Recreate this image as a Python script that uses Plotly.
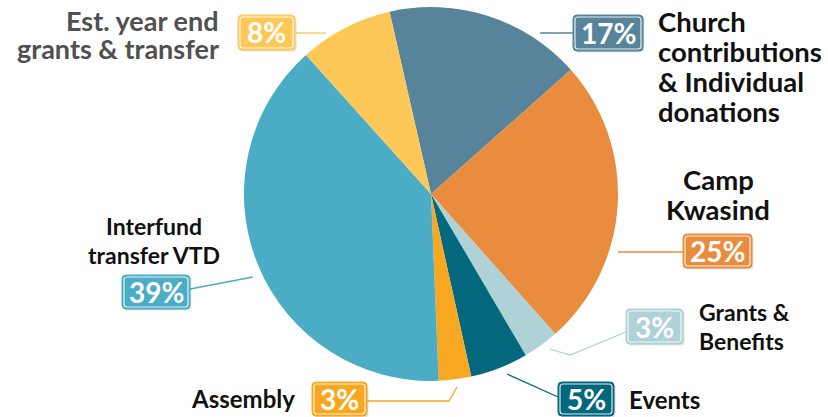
import plotly.graph_objects as go

# ---- data ----
categories = ["Church contributions & Individual donations", "Camp Kwasind",
              "Grants & Benefits", "Events", "Assembly",
              "Interfund transfer VTD", "Est. year end grants & transfer"]
values = [17, 25, 3.1, 5, 2.8, 39, 8.1]
pct_labels = ["17%", "25%", "3%", "5%", "3%", "39%", "8%"]
label_lines = [
    ["Church", "contributions", "& Individual", "donations"],
    ["Camp", "Kwasind"],
    ["Grants &", "Benefits"],
    ["Events"],
    ["Assembly"],
    ["Interfund", "transfer VTD"],
    ["Est. year end", "grants & transfer"],
]

# ---- styles ----
colors = ["#57849A", "#EA8C3E", "#AED2D6", "#03687D", "#F8A820", "#4BACC6", "#FEC858"]
W, H = 828, 417

def X(px):
    return px / W

def Y(py):
    return 1 - py / H

fig = go.Figure(go.Pie(
    labels=categories, values=values, sort=False, direction="clockwise",
    rotation=-12.8, textinfo="none", hoverinfo="label+percent",
    marker=dict(colors=colors, line=dict(width=0)),
    domain=dict(x=[X(244), X(618)], y=[Y(381), Y(7)]),
    showlegend=False,
))

shapes = []
annotations = []

# leader lines (pixel polylines)
leaders = [
    [(540, 33), (573, 33)],
    [(618, 252), (683, 252)],
    [(550, 349), (570, 355), (626, 332)],
    [(507, 374), (558, 397)],
    [(457, 387), (449, 401), (367, 401)],
    [(253, 277), (190, 289)],
    [(296, 33), (326, 33)],
]
for i, pts in enumerate(leaders):
    d = "M " + " L ".join(f"{X(x)},{Y(y)}" for x, y in pts)
    shapes.append(dict(type="path", xref="paper", yref="paper", path=d,
                       line=dict(color=colors[i], width=1.3)))

def rrect(x0, y0, x1, y1, r):
    return (f"M {X(x0+r)},{Y(y0)} L {X(x1-r)},{Y(y0)} Q {X(x1)},{Y(y0)} {X(x1)},{Y(y0+r)} "
            f"L {X(x1)},{Y(y1-r)} Q {X(x1)},{Y(y1)} {X(x1-r)},{Y(y1)} "
            f"L {X(x0+r)},{Y(y1)} Q {X(x0)},{Y(y1)} {X(x0)},{Y(y1-r)} "
            f"L {X(x0)},{Y(y0+r)} Q {X(x0)},{Y(y0)} {X(x0+r)},{Y(y0)} Z")

# percentage boxes (pixel rects)
boxes = [
    (573, 15, 643, 51),
    (683, 234, 752, 268),
    (626, 309, 683, 344),
    (558, 382, 614, 416),
    (312, 382, 367, 416),
    (122, 275, 190, 309),
    (238, 15, 295, 50),
]
for i, (x0, y0, x1, y1) in enumerate(boxes):
    shapes.append(dict(type="path", xref="paper", yref="paper",
                       path=rrect(x0 + 1.5, y0 + 1.5, x1 + 1.5, y1 + 1.5, 4),
                       fillcolor="rgba(0,0,0,0.12)", line=dict(width=0)))
    shapes.append(dict(type="path", xref="paper", yref="paper",
                       path=rrect(x0, y0, x1, y1, 4),
                       fillcolor=colors[i], line=dict(color=colors[i], width=1)))
    shapes.append(dict(type="path", xref="paper", yref="paper",
                       path=rrect(x0 + 2, y0 + 2, x1 - 2, y1 - 2, 3),
                       fillcolor="rgba(0,0,0,0)",
                       line=dict(color="rgba(255,255,255,0.85)", width=1.2)))
    annotations.append(dict(xref="paper", yref="paper",
                            x=X((x0 + x1) / 2), y=Y((y0 + y1) / 2),
                            text=pct_labels[i], showarrow=False,
                            xanchor="center", yanchor="middle",
                            font=dict(family="Lato", size=28, color="white", weight="bold")))

# category labels: (x, first-line center y, line spacing, xanchor, size, color)
label_pos = [
    (656, 22, 30, "left", 27.5, "#111111"),
    (718, 180, 30, "center", 27.5, "#111111"),
    (697, 313, 28.5, "left", 23, "#111111"),
    (627, 400, 0, "left", 24, "#111111"),
    (297, 399, 0, "right", 24, "#111111"),
    (154, 227, 29, "center", 23, "#111111"),
    (221, 21, 28.5, "right", 27, "#505050"),
]
for i, (x, y, sp, xa, sz, col) in enumerate(label_pos):
    for j, line in enumerate(label_lines[i]):
        annotations.append(dict(xref="paper", yref="paper", x=X(x), y=Y(y + j * sp - 1),
                                text=line, showarrow=False,
                                xanchor=xa, yanchor="middle", align=xa if xa != "center" else "center",
                                font=dict(family="Lato", size=sz, color=col, weight="bold")))

fig.update_layout(
    width=W, height=H,
    margin=dict(l=0, r=0, t=0, b=0),
    paper_bgcolor="white", plot_bgcolor="white",
    shapes=shapes, annotations=annotations,
)

fig.write_html("out.html", config={"displayModeBar": False},
               post_script="document.body.style.margin='0';document.body.style.padding='0';")
